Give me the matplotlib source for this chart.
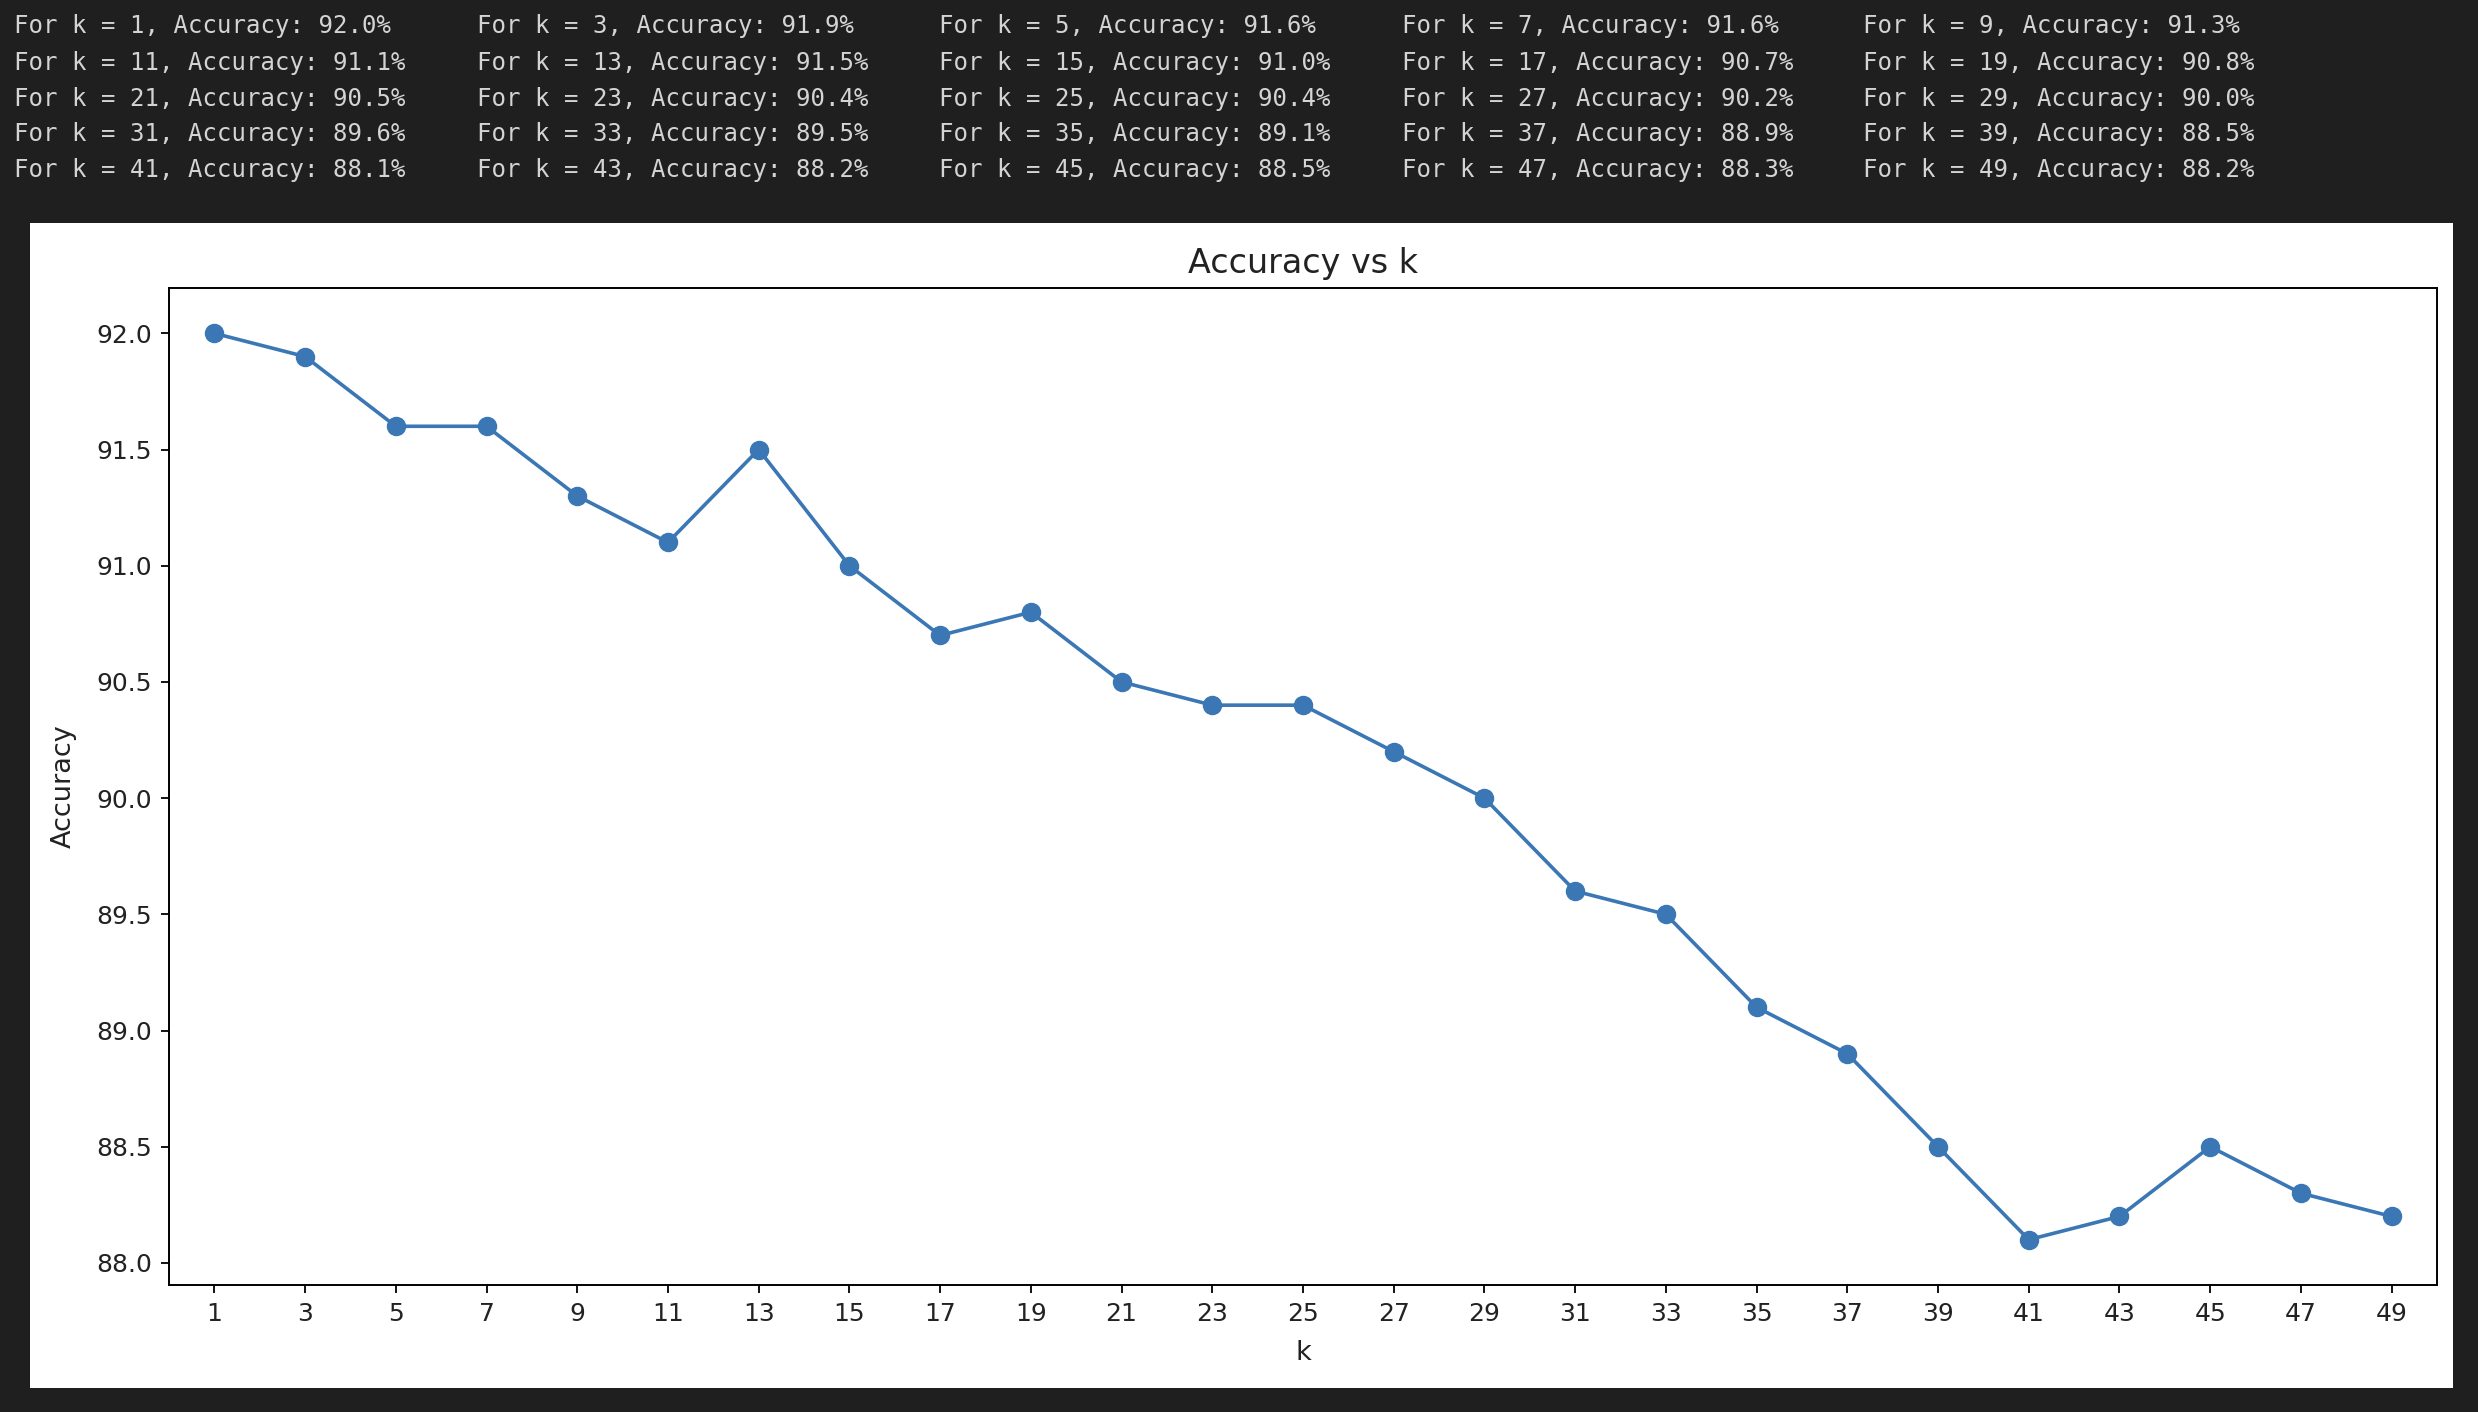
#!/usr/bin/env python3

import matplotlib
matplotlib.use("Agg")
import matplotlib.pyplot as plt
from matplotlib.patches import Rectangle

# k values and the accuracy printed for each one
k_values = [1, 3, 5, 7, 9, 11, 13, 15, 17, 19, 21, 23, 25,
            27, 29, 31, 33, 35, 37, 39, 41, 43, 45, 47, 49]
accuracy = [92.0, 91.9, 91.6, 91.6, 91.3, 91.1, 91.5, 91.0, 90.7, 90.8,
            90.5, 90.4, 90.4, 90.2, 90.0, 89.6, 89.5, 89.1, 88.9, 88.5,
            88.1, 88.2, 88.5, 88.3, 88.2]

W, H = 2478, 1412
DARK = "#1f1f1f"
LINE_COLOR = "#3a77b4"
TEXT_COLOR = "#222222"


def fx(px):
    return px / W


def fy(py):
    return 1 - py / H


fig = plt.figure(figsize=(W / 100, H / 100), dpi=100)
fig.patch.set_facecolor(DARK)

# console output above the plot
col_x = [14, 477, 939, 1402, 1863]
row_y = [26, 63, 99, 134, 170]
for i, (k, acc) in enumerate(zip(k_values, accuracy)):
    row, col = divmod(i, 5)
    fig.text(fx(col_x[col]), fy(row_y[row]), f"For k = {k}, Accuracy: {acc:.1f}%",
             family="DejaVu Sans Mono", fontsize=17.3, color="#d4d4d4",
             ha="left", va="center")

# white output cell behind the axes
fig.add_artist(Rectangle((fx(30), fy(1388)), fx(2453) - fx(30), fy(223) - fy(1388),
                         transform=fig.transFigure, facecolor="white",
                         edgecolor="none", zorder=-5))

ax = fig.add_axes([fx(169), fy(1285), fx(2437) - fx(169), fy(288) - fy(1285)])
ax.set_zorder(5)
ax.plot(k_values, accuracy, marker="o", color=LINE_COLOR, linewidth=2.6, markersize=13)
ax.set_xticks(k_values)
ax.set_xlim(0, 50)
ax.set_title("Accuracy vs k", fontsize=24, pad=11, color=TEXT_COLOR)
ax.set_xlabel("k", fontsize=19.5, labelpad=10, color=TEXT_COLOR)
ax.set_ylabel("Accuracy", fontsize=19.5, labelpad=14, color=TEXT_COLOR)
ax.tick_params(labelsize=18, length=6, width=1.3, pad=6, labelcolor=TEXT_COLOR)
for spine in ax.spines.values():
    spine.set_linewidth(1.4)

fig.savefig("out.png", dpi=100, facecolor=fig.get_facecolor())
plt.close(fig)
